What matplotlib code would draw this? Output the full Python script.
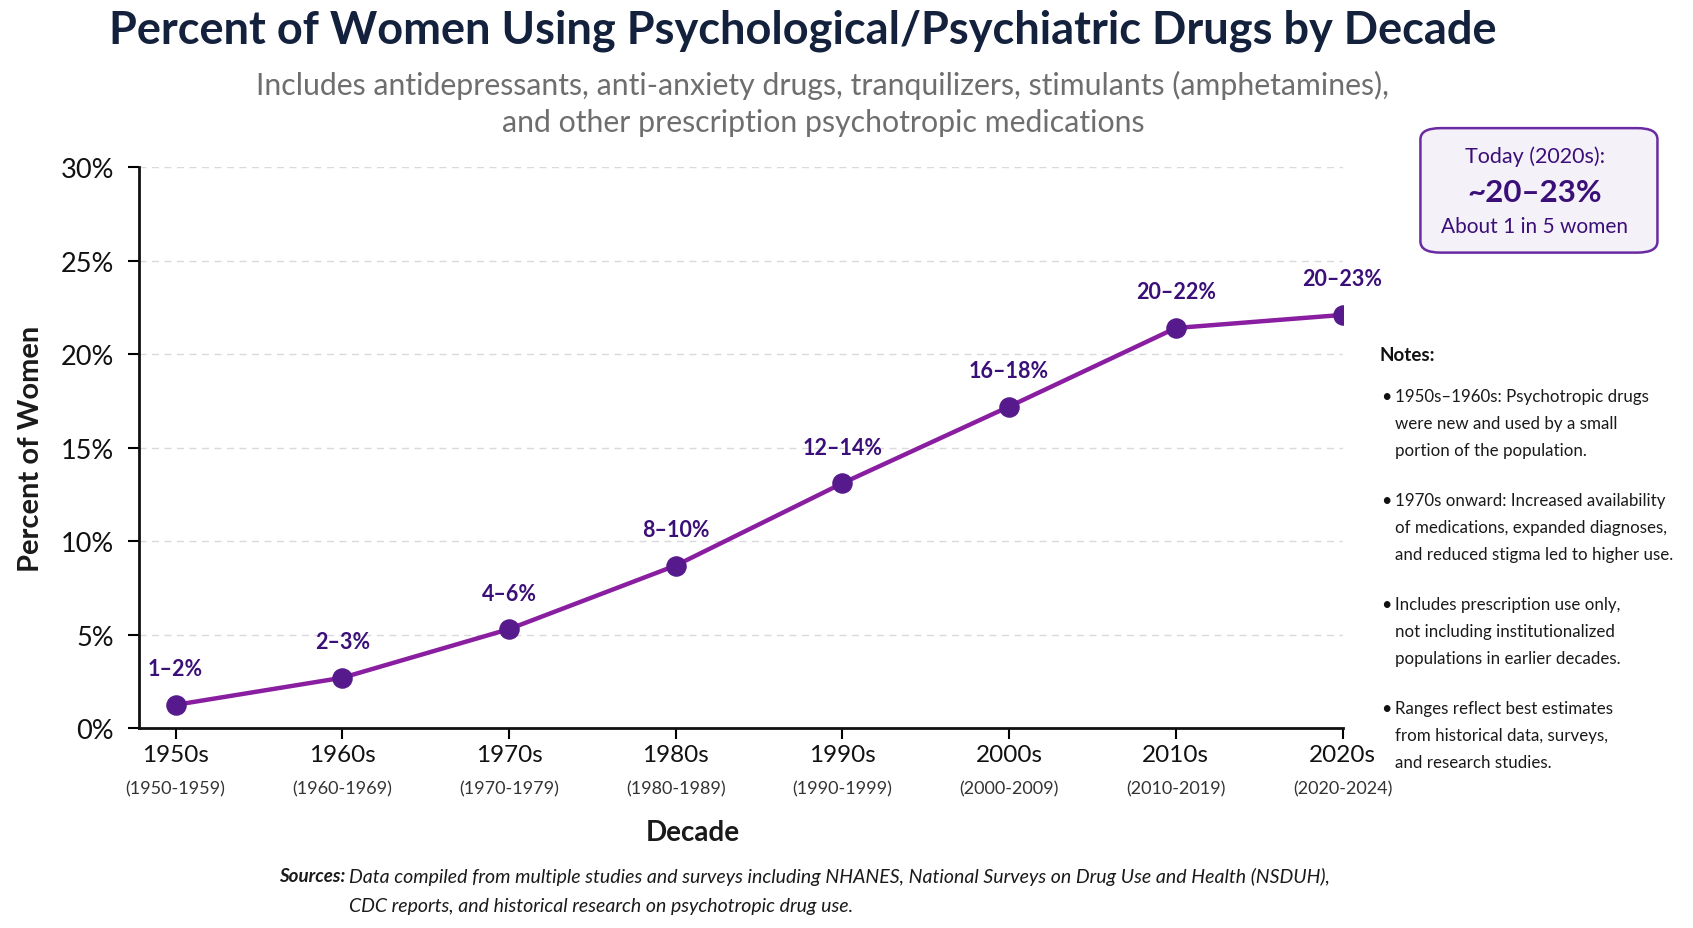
import matplotlib.pyplot as plt
from matplotlib.patches import FancyBboxPatch
from matplotlib import transforms

# Data
decades = ['1950s', '1960s', '1970s', '1980s', '1990s', '2000s', '2010s', '2020s']
year_spans = ['(1950-1959)', '(1960-1969)', '(1970-1979)', '(1980-1989)',
              '(1990-1999)', '(2000-2009)', '(2010-2019)', '(2020-2024)']
percent = [1.25, 2.7, 5.3, 8.7, 13.1, 17.2, 21.4, 22.1]
range_labels = ['1–2%', '2–3%', '4–6%', '8–10%', '12–14%', '16–18%', '20–22%', '20–23%']
y_ticks = [0, 5, 10, 15, 20, 25, 30]

notes = [
    ['1950s–1960s: Psychotropic drugs', 'were new and used by a small', 'portion of the population.'],
    ['1970s onward: Increased availability', 'of medications, expanded diagnoses,', 'and reduced stigma led to higher use.'],
    ['Includes prescription use only,', 'not including institutionalized', 'populations in earlier decades.'],
    ['Ranges reflect best estimates', 'from historical data, surveys,', 'and research studies.'],
]

plt.rcParams['font.family'] = ['Lato', 'DejaVu Sans']

navy = '#14213d'
line_color = '#8a1ea0'
dot_color = '#561a8c'
label_color = '#3b0f78'

fig = plt.figure(figsize=(16.93, 9.29), dpi=100)
ax = fig.add_axes([0.082, 0.215, 0.711, 0.604])

x = list(range(len(decades)))
ax.plot(x, percent, color=line_color, lw=3.2, zorder=3)
ax.scatter(x, percent, s=190, color=dot_color, zorder=4)

for xi, yi, lab in zip(x, percent, range_labels):
    ax.annotate(lab, (xi, yi), xytext=(0, 26), textcoords='offset points',
                ha='center', va='center', fontsize=15.5, fontweight='bold', color=label_color)

ax.set_xlim(-0.22, 7.0)
ax.set_ylim(0, 30)
ax.set_yticks(y_ticks)
ax.set_yticklabels([f'{t}%' for t in y_ticks], fontsize=19.5, color='#111111')
ax.set_xticks(x)
ax.set_xticklabels(decades, fontsize=17.5, color='#111111')
ax.tick_params(axis='y', length=8, width=1.5, pad=10)
ax.tick_params(axis='x', length=8, width=1.5, pad=3)

trans = transforms.blended_transform_factory(ax.transData, ax.transAxes)
for xi, span in zip(x, year_spans):
    ax.text(xi, -0.108, span, transform=trans, ha='center', va='center',
            fontsize=13, color='#333333')

for t in y_ticks[1:]:
    ax.axhline(t, color='#d9d9de', lw=1, ls=(0, (5, 4)), zorder=1)

for side in ['top', 'right']:
    ax.spines[side].set_visible(False)
for side in ['left', 'bottom']:
    ax.spines[side].set_linewidth(2)
    ax.spines[side].set_color('#111111')

ax.set_ylabel('Percent of Women', fontsize=21, fontweight='bold', color='#1a1a1a', labelpad=12)
fig.text(0.409, 0.103, 'Decade', fontsize=20, fontweight='bold', color='#1a1a1a',
         ha='center', va='center')

# Title and subtitle
fig.text(0.474, 0.967, 'Percent of Women Using Psychological/Psychiatric Drugs by Decade',
         fontsize=32.5, fontweight='bold', color=navy, ha='center', va='center')
fig.text(0.486, 0.908, 'Includes antidepressants, anti-anxiety drugs, tranquilizers, stimulants (amphetamines),',
         fontsize=21.8, color='#6e6e6e', ha='center', va='center')
fig.text(0.486, 0.868, 'and other prescription psychotropic medications',
         fontsize=21.8, color='#6e6e6e', ha='center', va='center')

# Callout box
box = FancyBboxPatch((0.839, 0.727), 0.140, 0.134, boxstyle='round,pad=0,rounding_size=0.012',
                     transform=fig.transFigure, facecolor='#f4f1f9', edgecolor='#6a2aa2', lw=1.8)
fig.patches.append(box)
fig.text(0.9065, 0.831, 'Today (2020s):', fontsize=15.5, color=label_color, ha='center', va='center')
fig.text(0.9065, 0.792, '~20–23%', fontsize=22.5, fontweight='bold', color=label_color, ha='center', va='center')
fig.text(0.9065, 0.756, 'About 1 in 5 women', fontsize=15, color=label_color, ha='center', va='center')

# Notes
fig.text(0.815, 0.617, 'Notes:', fontsize=13.5, fontweight='bold', color='#111111', ha='left', va='center')
y0 = 0.573
for block in notes:
    fig.text(0.8155, y0, '•', fontsize=13, color='#111111', ha='left', va='center')
    for i, line in enumerate(block):
        fig.text(0.824, y0 - i * 0.0292, line, fontsize=12.2, color='#1a1a1a', ha='left', va='center')
    y0 -= 0.1121

# Sources
fig.text(0.2038, 0.056, 'Sources:', fontsize=13.5, fontweight='bold', style='italic',
         color='#1a1a1a', ha='right', va='center')
fig.text(0.206, 0.056, 'Data compiled from multiple studies and surveys including NHANES, '
         'National Surveys on Drug Use and Health (NSDUH),',
         fontsize=14, style='italic', color='#1a1a1a', ha='left', va='center')
fig.text(0.206, 0.024, 'CDC reports, and historical research on psychotropic drug use.',
         fontsize=14, style='italic', color='#1a1a1a', ha='left', va='center')

fig.savefig('out.png', dpi=100, facecolor='white')
